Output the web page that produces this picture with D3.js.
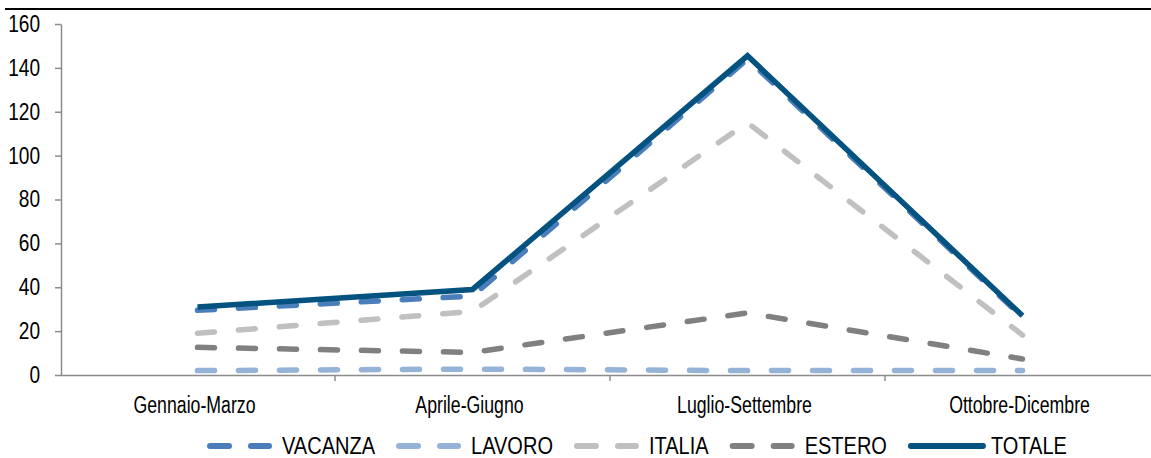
<!DOCTYPE html>
<html>
<head>
<meta charset="utf-8">
<script src="https://cdn.jsdelivr.net/npm/d3@7"></script>
<style>
  body { margin: 0; background: #fff; }
  svg text { font-family: "Liberation Sans Narrow", "Arial Narrow", "Liberation Sans", Arial, sans-serif; fill: #000; }
</style>
</head>
<body>
<div id="chart"></div>
<script>
// data
var categories = ["Gennaio-Marzo", "Aprile-Giugno", "Luglio-Settembre", "Ottobre-Dicembre"];
var vacanza = [29.5, 36, 144, 26.3];
var lavoro  = [2, 2.7, 2, 2];
var italia  = [19, 29, 115, 18.2];
var estero  = [12.6, 10.3, 28.3, 7.3];
var totale  = [31, 39, 145.5, 27];
var yTicks  = [0, 20, 40, 60, 80, 100, 120, 140, 160];

var series = [
  {name: "VACANZA", values: vacanza, color: "#4a7ebb", dash: "17,24"},
  {name: "LAVORO",  values: lavoro,  color: "#95b3d7", dash: "17,24"},
  {name: "ITALIA",  values: italia,  color: "#c0c0c0", dash: "17,24"},
  {name: "ESTERO",  values: estero,  color: "#808080", dash: "17,24"},
  {name: "TOTALE",  values: totale,  color: "#03527f", dash: null}
];

var width = 1151, height = 458;
var margin = {left: 61, top: 24, bottom: 83};

// the original font is a narrow one: compress each text to k of its width
function squeeze(sel, k) {
  sel.each(function() {
    var w = this.getComputedTextLength();
    d3.select(this)
      .attr("textLength", w * k)
      .attr("lengthAdjust", "spacingAndGlyphs");
  });
}

var svg = d3.select("#chart")
            .append("svg")
            .attr("width", width)
            .attr("height", height);

// black rule on top
svg.append("line")
   .attr("x1", 5).attr("x2", width)
   .attr("y1", 9).attr("y2", 9)
   .attr("stroke", "#000")
   .attr("stroke-width", 2);

var x = d3.scaleBand()
          .domain(categories)
          .range([margin.left - 1, margin.left + 1099]);

var y = d3.scaleLinear()
          .domain([0, 160])
          .range([height - margin.bottom, margin.top]);

// y axis
var yAxis = svg.append("g")
   .attr("transform", "translate(" + margin.left + ",0)")
   .call(d3.axisLeft(y).tickValues(yTicks).tickSize(6).tickPadding(15).tickSizeOuter(0));
yAxis.select(".domain").attr("stroke", "#8c8c8c").attr("stroke-width", 1.5);
yAxis.selectAll(".tick line").attr("stroke", "#8c8c8c").attr("stroke-width", 1.5);
yAxis.selectAll("text").style("font-size", "23px").call(squeeze, 0.83);

// x axis
var xAxis = svg.append("g")
   .attr("transform", "translate(0," + y(0) + ")")
   .call(d3.axisBottom(x).tickSize(0).tickPadding(22));
xAxis.select(".domain").attr("stroke", "#8c8c8c").attr("stroke-width", 1.5);
xAxis.selectAll("text").style("font-size", "23px").attr("dx", "-3px").call(squeeze, 0.77);

// ticks between categories
svg.append("g").selectAll("line")
   .data(categories.slice(1))
   .enter()
   .append("line")
   .attr("x1", function(d) {return x(d);})
   .attr("x2", function(d) {return x(d);})
   .attr("y1", y(0))
   .attr("y2", y(0) + 6)
   .attr("stroke", "#8c8c8c")
   .attr("stroke-width", 1.5);

// lines
var line = d3.line()
             .x(function(d, i) {return x(categories[i]) + x.bandwidth() / 2;})
             .y(function(d) {return y(d);});

svg.append("g").selectAll("path")
   .data(series)
   .enter()
   .append("path")
   .attr("d", function(s) {return line(s.values);})
   .attr("fill", "none")
   .attr("stroke", function(s) {return s.color;})
   .attr("stroke-width", 5.5)
   .attr("stroke-linecap", function(s) {return s.dash ? "round" : "butt";})
   .attr("stroke-linejoin", "miter")
   .attr("stroke-dasharray", function(s) {return s.dash;});

// legend
var legendSqueeze = 0.87;
var legend = svg.append("g");
var lx = 210, ly = 446;
series.forEach(function(s) {
  var sw = s.dash ? 59 : 72;
  legend.append("line")
        .attr("x1", lx).attr("x2", lx + sw)
        .attr("y1", ly).attr("y2", ly)
        .attr("stroke", s.color)
        .attr("stroke-width", 6)
        .attr("stroke-linecap", "round")
        .attr("stroke-dasharray", s.dash ? "19,22" : null);
  var t = legend.append("text")
        .attr("x", lx + sw + (s.dash ? 13 : 8))
        .attr("y", ly)
        .attr("dy", "0.36em")
        .style("font-size", "23px")
        .text(s.name)
        .call(squeeze, legendSqueeze);
  lx = lx + sw + (s.dash ? 13 : 8) + (+t.attr("textLength")) + 24;
});
</script>
</body>
</html>
